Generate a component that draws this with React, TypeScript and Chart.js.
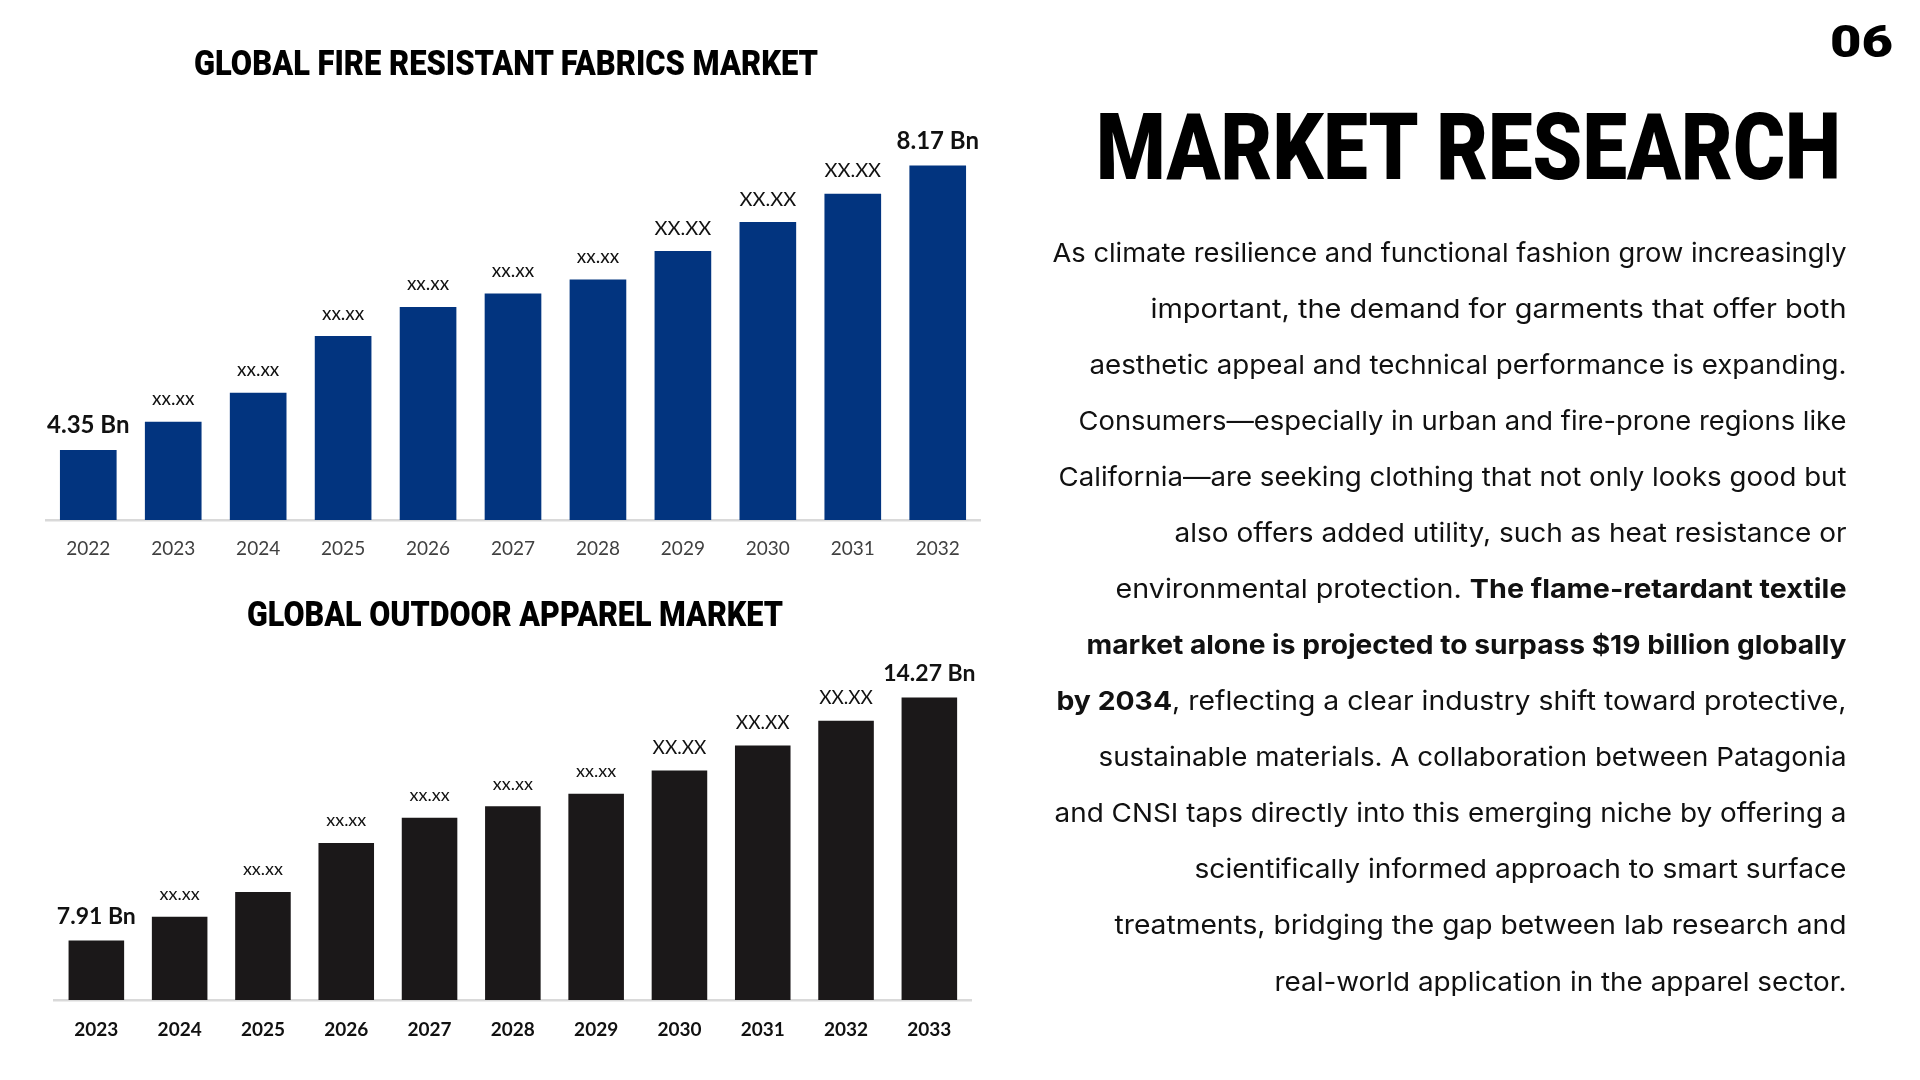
import React, { useEffect, useRef } from "react";
import { Chart, registerables } from "chart.js";

Chart.register(...registerables);

// Global fire resistant fabrics market, USD billion
const fabricYears = ["2022", "2023", "2024", "2025", "2026", "2027", "2028", "2029", "2030", "2031", "2032"];
const fabricValues = [4.35, 4.73, 5.12, 5.88, 6.27, 6.45, 6.64, 7.02, 7.41, 7.79, 8.17];
// caption kind per bar: "value" prints the figure, "minor"/"major" print placeholders
const fabricCaptions = ["value", "minor", "minor", "minor", "minor", "minor", "minor", "major", "major", "major", "value"];

// Global outdoor apparel market, USD billion
const apparelYears = ["2023", "2024", "2025", "2026", "2027", "2028", "2029", "2030", "2031", "2032", "2033"];
const apparelValues = [7.91, 8.53, 9.18, 10.46, 11.12, 11.42, 11.75, 12.36, 13.01, 13.66, 14.27];
const apparelCaptions = ["value", "minor", "minor", "minor", "minor", "minor", "minor", "major", "major", "major", "value"];

// Right-hand copy, one entry per rendered line; true marks bold runs
const bodyLines: [string, boolean][][] = [
  [["As climate resilience and functional fashion grow increasingly", false]],
  [["important, the demand for garments that offer both", false]],
  [["aesthetic appeal and technical performance is expanding.", false]],
  [["Consumers\u2014especially in urban and fire-prone regions like", false]],
  [["California\u2014are seeking clothing that not only looks good but", false]],
  [["also offers added utility, such as heat resistance or", false]],
  [["environmental protection. ", false], ["The flame-retardant textile", true]],
  [["market alone is projected to surpass $19 billion globally", true]],
  [["by 2034", true], [", reflecting a clear industry shift toward protective,", false]],
  [["sustainable materials. A collaboration between Patagonia", false]],
  [["and CNSI taps directly into this emerging niche by offering a", false]],
  [["scientifically informed approach to smart surface", false]],
  [["treatments, bridging the gap between lab research and", false]],
  [["real-world application in the apparel sector.", false]],
];
const bodyLineWidths = [794, 696, 757, 768, 788, 672, 731, 760, 790, 748, 792, 652, 732, 572];

const captionPlugin = {
  id: "barCaptions",
  afterDatasetsDraw(chart: any, _args: any, opts: any) {
    const { ctx } = chart;
    const meta = chart.getDatasetMeta(0);
    const data = chart.data.datasets[0].data as number[];
    meta.data.forEach((bar: any, i: number) => {
      const kind = opts.kinds[i];
      let text: string;
      let font: string;
      if (kind === "value") {
        text = `${data[i].toFixed(2)} Bn`;
        font = `700 ${opts.valueSize}px Lato`;
      } else if (kind === "major") {
        text = "XX.XX";
        font = `400 ${opts.majorSize}px Lato`;
      } else {
        text = "xx.xx";
        font = `400 ${opts.minorSize}px Lato`;
      }
      ctx.save();
      ctx.font = font;
      ctx.fillStyle = "#111111";
      ctx.textAlign = "center";
      ctx.textBaseline = "alphabetic";
      ctx.fillText(text, bar.x, bar.y - opts.gap);
      ctx.restore();
    });
  },
};

type BarChartProps = {
  left: number;
  top: number;
  width: number;
  height: number;
  years: string[];
  values: number[];
  captions: string[];
  color: string;
  range: [number, number];
  padding: { left: number; right: number; top: number; bottom: number };
  tick: { color: string; size: number; weight: string; padding: number };
  caption: { valueSize: number; majorSize: number; minorSize: number; gap: number };
};

function BarChart(p: BarChartProps) {
  const ref = useRef<HTMLCanvasElement>(null);
  useEffect(() => {
    const chart = new Chart(ref.current as HTMLCanvasElement, {
      type: "bar",
      data: {
        labels: p.years,
        datasets: [
          {
            data: p.values,
            backgroundColor: p.color,
            borderWidth: 0,
            barPercentage: 0.667,
            categoryPercentage: 1,
          },
        ],
      },
      options: {
        responsive: false,
        maintainAspectRatio: false,
        animation: false,
        devicePixelRatio: 1,
        layout: { padding: p.padding },
        scales: {
          x: {
            offset: true,
            grid: { display: false, drawTicks: false },
            border: { display: true, color: "#d9d9d9", width: 2.5 },
            ticks: {
              color: p.tick.color,
              padding: p.tick.padding,
              font: { family: "Lato", size: p.tick.size, weight: p.tick.weight as any },
              maxRotation: 0,
              autoSkip: false,
            },
            afterFit: (scale: any) => {
              scale.height = 60;
            },
          },
          y: { display: false, min: p.range[0], max: p.range[1] },
        },
        plugins: {
          legend: { display: false },
          tooltip: { enabled: false },
          barCaptions: { kinds: p.captions, ...p.caption },
        } as any,
      },
      plugins: [captionPlugin],
    });
    return () => chart.destroy();
  }, []);
  return (
    <canvas
      ref={ref}
      width={p.width}
      height={p.height}
      style={{ position: "absolute", left: p.left, top: p.top, width: p.width, height: p.height }}
    />
  );
}

export default function App() {
  const headFont = "Roboto, 'Liberation Sans', sans-serif";
  const bodyFont = "Inter, 'Noto Sans', sans-serif";
  return (
    <div
      style={{
        position: "fixed",
        left: 0,
        top: 0,
        width: 1920,
        height: 1080,
        background: "#ffffff",
        overflow: "hidden",
      }}
    >
      <BarChart
        left={0}
        top={100}
        width={1000}
        height={500}
        years={fabricYears}
        values={fabricValues}
        captions={fabricCaptions}
        color="#02347f"
        range={[3.41, 8.78]}
        padding={{ left: 45.8, right: 19.8, top: 20, bottom: 20 }}
        tick={{ color: "#404040", size: 19, weight: "400", padding: 17 }}
        caption={{ valueSize: 24, majorSize: 20, minorSize: 19, gap: 16.5 }}
      />
      <BarChart
        left={0}
        top={640}
        width={1000}
        height={440}
        years={apparelYears}
        values={apparelValues}
        captions={apparelCaptions}
        color="#1b1819"
        range={[6.35, 15.25]}
        padding={{ left: 54.7, right: 29, top: 20, bottom: 20 }}
        tick={{ color: "#111111", size: 19, weight: "700", padding: 18 }}
        caption={{ valueSize: 23, majorSize: 19, minorSize: 18, gap: 16.5 }}
      />
      <svg
        width={1920}
        height={1080}
        style={{ position: "absolute", left: 0, top: 0, pointerEvents: "none" }}
      >
        <text
          x={506}
          y={74.5}
          textAnchor="middle"
          fontFamily={headFont}
          fontWeight={900}
          fontSize={35}
          textLength={624}
          lengthAdjust="spacingAndGlyphs"
          fill="#000"
        >
          GLOBAL FIRE RESISTANT FABRICS MARKET
        </text>
        <text
          x={515}
          y={626}
          textAnchor="middle"
          fontFamily={headFont}
          fontWeight={900}
          fontSize={35}
          textLength={536}
          lengthAdjust="spacingAndGlyphs"
          fill="#000"
        >
          GLOBAL OUTDOOR APPAREL MARKET
        </text>
        <text
          x={1893}
          y={56.7}
          textAnchor="end"
          fontFamily={headFont}
          fontWeight={900}
          fontSize={45}
          textLength={63}
          lengthAdjust="spacingAndGlyphs"
          fill="#000"
        >
          06
        </text>
        <text
          x={1841}
          y={179}
          textAnchor="end"
          fontFamily={headFont}
          fontWeight={900}
          fontSize={92}
          textLength={745}
          lengthAdjust="spacingAndGlyphs"
          fill="#000"
        >
          MARKET RESEARCH
        </text>
        {bodyLines.map((line, i) => (
          <text
            key={i}
            x={1846.5}
            y={262 + i * 56.04}
            textAnchor="end"
            fontFamily={bodyFont}
            fontSize={26}
            textLength={bodyLineWidths[i]}
            lengthAdjust="spacingAndGlyphs"
            fill="#111"
            style={{ whiteSpace: "pre" }}
          >
            {line.map(([t, bold], j) => (
              <tspan key={j} fontWeight={bold ? 700 : 400}>
                {t}
              </tspan>
            ))}
          </text>
        ))}
      </svg>
    </div>
  );
}
